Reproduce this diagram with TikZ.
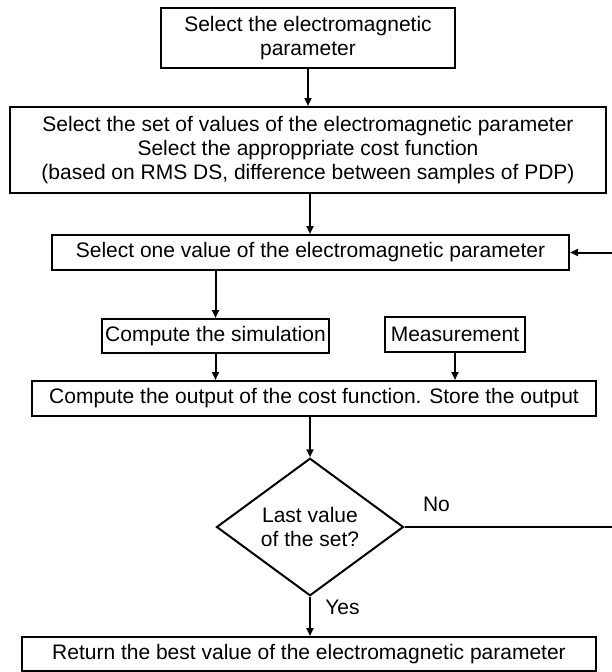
\documentclass[tikz,border=0pt]{standalone}
\usepackage{fontspec}
\setmainfont{Liberation Sans}
\usepackage{tikz}
\usetikzlibrary{arrows.meta,shapes.geometric}

\begin{document}
\begin{tikzpicture}[x=1pt,y=-1pt,
  kutu/.style={draw,line width=2pt,inner sep=0pt,align=center,font=\fontsize{21}{24}\selectfont},
  etiket/.style={inner sep=0pt,font=\fontsize{21}{24}\selectfont},
  ok/.style={-{Triangle[length=8pt,width=7pt]},line width=2pt}]
\useasboundingbox (0,0) rectangle (611,672);
\node[kutu,minimum width=294,minimum height=60] (parametre) at (308,38) {Select the electromagnetic\\parameter};
\node[kutu,minimum width=596,minimum height=86] (kume) at (308,150) {Select the set of values of the electromagnetic parameter\\Select the approppriate cost function\\(based on RMS DS, difference between samples of PDP)};
\node[kutu,minimum width=517,minimum height=35] (deger) at (310.5,252.5) {Select one value of the electromagnetic parameter};
\node[kutu,minimum width=227,minimum height=34] (simulasyon) at (215.5,336) {Compute the simulation};
\node[kutu,minimum width=140,minimum height=35] (olcum) at (455,334.5) {Measurement};
\node[kutu,minimum width=564,minimum height=35] (maliyet) at (314,398.5) {Compute the output of the cost function. Store the output};
\node[kutu,diamond,minimum width=187,minimum height=135] (karar) at (310,527) {Last value\\of the set?};
\node[kutu,minimum width=574,minimum height=34] (sonuc) at (309,654) {Return the best value of the electromagnetic parameter};
\coordinate (donus) at (615,527);
\draw[ok] (parametre.south) -- (parametre.south |- kume.north);
\draw[ok] (kume.south -| karar.north) -- (deger.north -| karar.north);
\draw[ok] (simulasyon.north |- deger.south) -- (simulasyon.north);
\draw[ok] (simulasyon.south) -- (simulasyon.south |- maliyet.north);
\draw[ok] (olcum.south) -- (olcum.south |- maliyet.north);
\draw[ok] (karar.north |- maliyet.south) -- (karar.north);
\draw[ok] (karar.south) -- (karar.south |- sonuc.north);
\draw[ok] (karar.east) -- (donus) |- (deger.east);
\node[etiket] (hayir) at (436.5,504.5) {No};
\node[etiket] (evet) at (342.5,607.5) {Yes};
\end{tikzpicture}
\end{document}
